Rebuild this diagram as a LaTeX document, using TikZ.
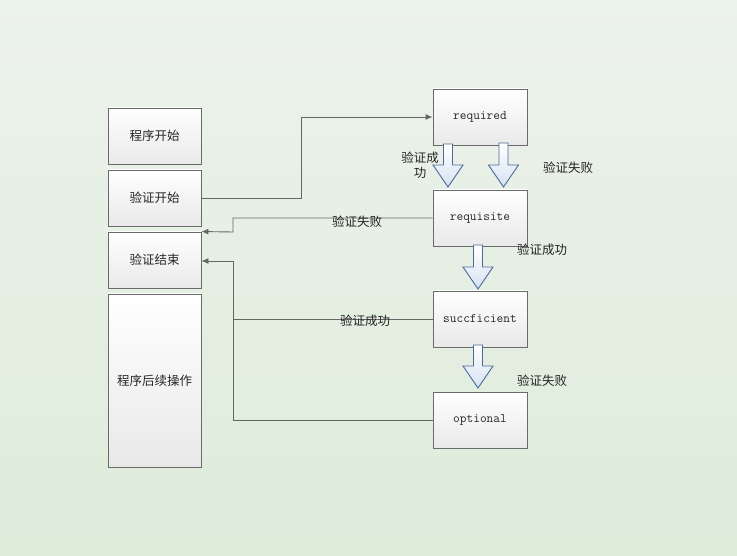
\documentclass[tikz,border=0pt]{standalone}
\usepackage{fontspec}
\newfontfamily\cjk{Noto Sans CJK SC}
\usetikzlibrary{arrows.meta,shadows}
\definecolor{bgtop}{HTML}{ECF2EC}
\definecolor{bgbot}{HTML}{DEECDA}
\definecolor{boxline}{HTML}{6A6A6A}
\definecolor{boxbot}{HTML}{E9E9E9}
\definecolor{conn}{HTML}{666666}
\definecolor{blkline}{HTML}{4A6A9A}
\definecolor{blkbot}{HTML}{D6E2F2}
\tikzset{
  box/.style={draw=boxline, line width=0.9pt, top color=white, bottom color=boxbot,
    minimum width=93pt, minimum height=56pt, inner sep=0pt,
    drop shadow={shadow xshift=1.2pt, shadow yshift=-1.2pt, opacity=0.25, fill=gray}},
  cjktext/.style={font=\cjk\fontsize{12.5}{15}\selectfont, text=black!85},
  entext/.style={font=\ttfamily\fontsize{13}{15}\selectfont, text=black!85},
  conn/.style={draw=conn, line width=0.9pt},
  connarr/.style={conn, -{Latex[length=7pt,width=6pt]}},
  blk/.style={draw=blkline, line width=0.9pt, top color=white, bottom color=blkbot, line join=miter},
  lbl/.style={cjktext, inner sep=0pt}
}
\newcommand\blkarrow[3]{%
  \path[blk] (#1-4.5,#2) -- (#1+4.5,#2) -- (#1+4.5,#3-22) -- (#1+15,#3-22) -- (#1,#3)
    -- (#1-15,#3-22) -- (#1-4.5,#3-22) -- cycle;}
\begin{document}
\begin{tikzpicture}[x=1pt,y=-1pt]
\shade[top color=bgtop, bottom color=bgbot] (0,0) rectangle (737,556);
\useasboundingbox (0,0) rectangle (737,556);

% left column
\node[box, cjktext] (start) at (154.5,136) {程序开始};
\node[box, cjktext] (vstart) at (154.5,198) {验证开始};
\node[box, cjktext] (vend) at (154.5,260) {验证结束};
\node[box, cjktext, minimum height=173pt] (follow) at (154.5,380.5) {程序后续操作};

% right column
\node[box, entext, minimum width=94pt] (req) at (480,117) {required};
\node[box, entext, minimum width=94pt] (reqs) at (480,218) {requisite};
\node[box, entext, minimum width=94pt] (suff) at (480,319) {succficient};
\node[box, entext, minimum width=94pt] (opt) at (480,420) {optional};

% connectors
\coordinate (c1) at (301,198);
\coordinate (c2) at (301,117);
\draw[connarr] (vstart.east) -- (c1) -- (c2) -- (req.west);

\coordinate (d1) at (233,218);
\coordinate (d2) at (233,232);
\draw[connarr] (reqs.west) -- (d1) -- (d2) -- (vend.north east);

\coordinate (e1) at (233,420);
\coordinate (e2) at (233,261);
\coordinate (e3) at (233,319);
\draw[conn] (opt.west) -- (e1) -- (e3);
\draw[connarr] (e3) -- (e2) -- (vend.east |- e2);
\draw[conn] (suff.west) -- (e3);

% block arrows
\blkarrow{448}{144}{187}
\blkarrow{503.5}{143}{187}
\blkarrow{478}{245}{289}
\blkarrow{478}{345}{388}

% labels
\node[lbl, align=center] (l1) at (420,165) {验证成\\功};
\node[lbl] (l2) at (568,168) {验证失败};
\node[lbl] (l3) at (357,222) {验证失败};
\node[lbl] (l4) at (542,250) {验证成功};
\node[lbl] (l5) at (365,321) {验证成功};
\node[lbl] (l6) at (542,381) {验证失败};
\end{tikzpicture}
\end{document}
